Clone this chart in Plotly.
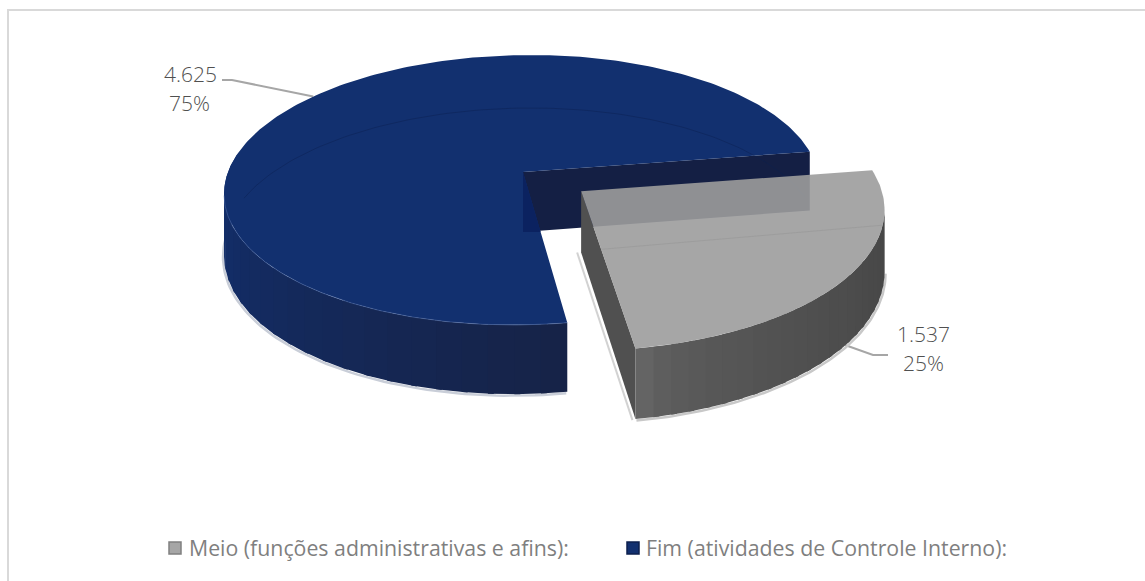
import numpy as np
import plotly.graph_objects as go

categories = ["Meio (funções administrativas e afins):", "Fim (atividades de Controle Interno):"]
values = [1537, 4625]

W, H = 1145, 581
total = sum(values)
shares = [v / total for v in values]
value_labels = [f"{v:,}".replace(",", ".") for v in values]
pct_labels = [f"{round(100 * s)}%" for s in shares]

# projection of the pie's ground plane onto the page
CX, CY, A, B, P, SKEW = 523.0, 172.0, 295.0, 132.6, 0.1333, 0.03
DEPTH = 60.0
START = 9.0
PULL = 0.244


def project(wx, wy):
    d = 1 + P * wy
    return CX + A * (wx + SKEW * wy) / d, CY - B * wy / d, DEPTH / d


def rim(t_deg, ox=0.0, oy=0.0):
    t = np.radians(t_deg)
    return project(np.cos(t) + ox, np.sin(t) + oy)


fig = go.Figure()


def poly(xs, ys, color):
    fig.add_trace(go.Scatter(x=list(xs), y=list(ys), mode="lines", fill="toself", fillcolor=color,
                             line=dict(width=0, color=color), hoverinfo="skip", showlegend=False))


def line(xs, ys, color, width):
    fig.add_trace(go.Scatter(x=list(xs), y=list(ys), mode="lines", line=dict(color=color, width=width),
                             hoverinfo="skip", showlegend=False))


def mix(c1, c2, f):
    c = [round(a + (b - a) * f) for a, b in zip(c1, c2)]
    return f"rgb({c[0]},{c[1]},{c[2]})"


def wall(t0, t1, c1, c2, ox=0.0, oy=0.0, n=24, power=1.0):
    edges = np.linspace(t0, t1, n + 1)
    for i in range(n):
        t = np.linspace(edges[i], edges[i + 1] + (1.0 if i < n - 1 else 0), 6)
        x, y, h = rim(t, ox, oy)
        poly(np.r_[x, x[::-1]], np.r_[y, (y + h)[::-1]], mix(c1, c2, (i / (n - 1)) ** power))


sweep_grey = shares[0] * 360
t_grey_end = START - sweep_grey
mid = np.radians((START + t_grey_end) / 2)
ox, oy = PULL * np.cos(mid), PULL * np.sin(mid)

# leader lines (under the pie)
lx, ly, _ = rim(142)
line([222, 232, lx], [80, 80, ly], "#a6a6a6", 2)
line([845, 873, 888], [345, 355, 355], "#a6a6a6", 2)

# soft shadows
t = np.linspace(175, 360 + t_grey_end, 80)
x, y, h = rim(t)
line(x - 1, y + h + 1.5, "#c9ced8", 2.5)
ts = np.linspace(t_grey_end, START, 120)
xs, ys, hs = rim(ts, ox, oy)
t_tan = ts[np.argmax(xs)]
keep = ts <= t_tan
line(xs[keep] + 1, (ys + hs)[keep] + 1.5, "#c8c8c8", 2.5)
ax, ay, ah = project(ox, oy)
cx_, cy_, ch_ = rim(t_grey_end, ox, oy)
line([ax - 4, cx_ - 3], [ay + ah, cy_ + ch_ + 1], "#d2d2d2", 2)

# blue slice: back wall, outer wall, top
ex, ey, eh = rim(START)
poly([CX, ex, ex, CX], [CY, ey, ey + eh, CY + DEPTH], "#141f44")
wall(172, 360 + t_grey_end, (18, 48, 112), (22, 35, 72))
t = np.linspace(START, 360 + t_grey_end, 240)
x, y, _ = rim(t)
poly(np.r_[CX, x, CX], np.r_[CY, y, CY], "#12306f")

# highlight along the rim and reflection arc on the blue top
t = np.linspace(190, 360 + t_grey_end, 120)
x, y, _ = rim(t)
line(x, y, "rgba(90,120,180,0.45)", 1)
t = np.linspace(13, 168, 100)
x, y, _ = rim(t)
line(x, y + 53, "rgba(10,30,80,0.45)", 1)

# dark triangle where the back wall shows through the blue top
fx, fy, _ = rim(360 + t_grey_end)
f = DEPTH / (fy - CY)
poly([CX, CX + (fx - CX) * f, CX], [CY, CY + DEPTH, CY + DEPTH], "#0b2260")

# grey slice, pulled out: cut wall, outer wall, translucent top
poly([ax, cx_, cx_, ax], [ay, cy_, cy_ + ch_, ay + ah], "#505050")
wall(t_grey_end, t_tan, (100, 100, 100), (70, 70, 70), ox, oy, power=0.5)
t = np.linspace(t_grey_end, START, 120)
x, y, _ = rim(t, ox, oy)
poly(np.r_[ax, x, ax], np.r_[ay, y, ay], "rgba(156,156,156,0.9)")
# faint reflection line on the grey top
kx, ky, _ = rim(START, ox, oy)
line([ax + 20, kx + 10], [ay + 58, ky + 55], "rgba(140,140,140,0.35)", 1)

# legend squares and texts
legend_colors = ["#a6a6a6", "#12306f"]
legend_edges = ["#808080", "#0c1f4d"]
legend_x = [175, 633]
legend_text_x = [187, 644]
for name, col, edge, lx_, tx_ in zip(categories, legend_colors, legend_edges, legend_x, legend_text_x):
    fig.add_trace(go.Scatter(x=[lx_], y=[548], mode="markers", name=name, hoverinfo="skip", showlegend=False,
                             marker=dict(symbol="square", size=12, color=col, line=dict(color=edge, width=1.5))))
    fig.add_annotation(x=tx_, y=547, text=name, showarrow=False, xanchor="left", yanchor="middle",
                       font=dict(family="Open Sans", size=21.3, color="#7f7f7f"))

label_font = dict(family="Open Sans", size=21, color="#505050", weight=300)
for lab, xc, yc in [(value_labels[1], 190, 74), (pct_labels[1], 189, 103),
                    (value_labels[0], 923, 334), (pct_labels[0], 923, 363)]:
    fig.add_annotation(x=xc, y=yc, text=lab, showarrow=False, font=label_font)

fig.update_layout(
    width=W, height=H, autosize=False, margin=dict(l=0, r=0, t=0, b=0),
    paper_bgcolor="white", plot_bgcolor="white",
    xaxis=dict(range=[0, W], visible=False, fixedrange=True),
    yaxis=dict(range=[H, 0], visible=False, fixedrange=True),
    showlegend=False,
    shapes=[dict(type="rect", xref="x", yref="y", x0=8, y0=10, x1=1170, y1=620,
                 line=dict(color="#d9d9d9", width=2), layer="below")],
)

fig.write_html("out.html", config={"displayModeBar": False},
               post_script="document.body.style.margin='0';")
